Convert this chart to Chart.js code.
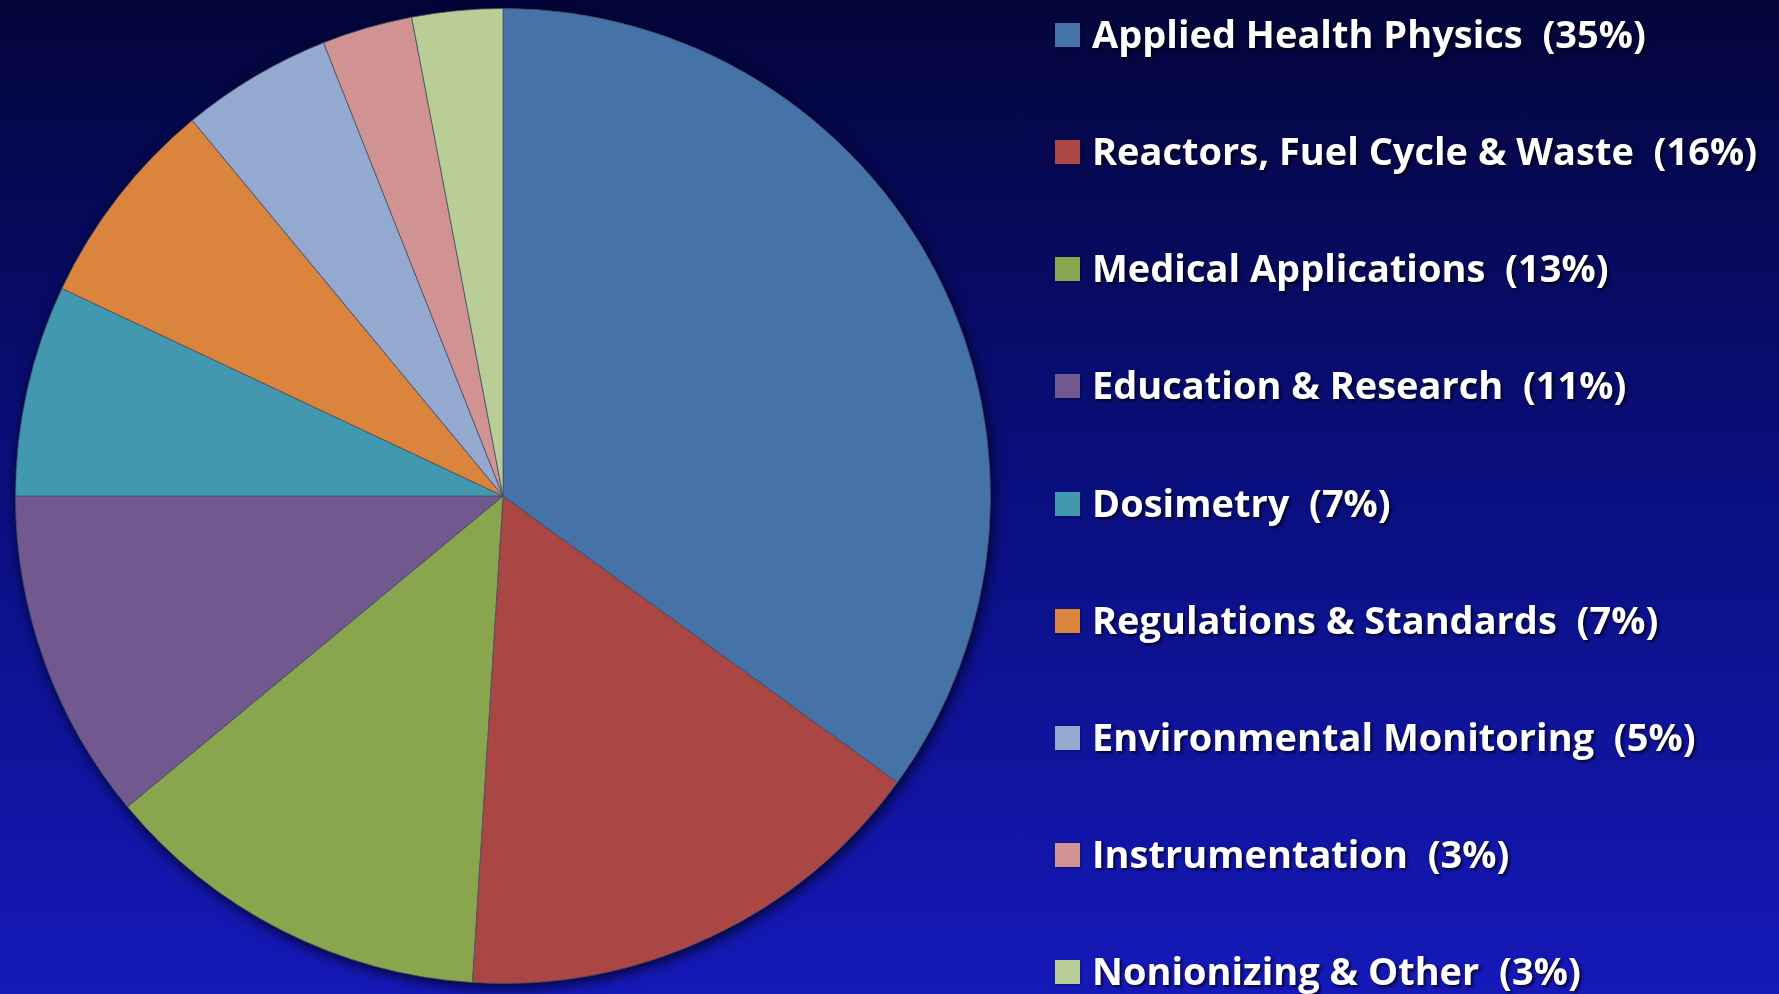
<!DOCTYPE html>
<html>
<head>
<meta charset="utf-8">
<script src="https://cdn.jsdelivr.net/npm/chart.js@4"></script>
<style>
  html, body { margin: 0; padding: 0; overflow: hidden; }
  body {
    width: 1779px; height: 994px;
    background: linear-gradient(to bottom, #03053a 0%, #0a0f80 50%, #1519b8 100%);
    position: relative;
  }
  #wrap { position: absolute; left: 0; top: 0; width: 1779px; height: 994px; }
  #legend { position: absolute; left: 0; top: 0; width: 1779px; height: 994px; pointer-events: none; }
  .item { position: absolute; left: 1055px; height: 40px; display: flex; align-items: center; }
  .box { width: 25px; height: 24px; margin-right: 12px; box-shadow: 1px 1px 2px rgba(0,0,0,0.35); }
  .txt {
    font-family: "Open Sans", Lato, sans-serif; font-weight: bold; font-size: 38px;
    color: #fff; white-space: pre; line-height: 40px;
    text-shadow: 2px 2px 3px rgba(0, 0, 0, 0.75);
    position: relative; top: -2px;
  }
</style>
</head>
<body>
<div id="wrap"><canvas id="myChart"></canvas></div>
<div id="legend"></div>
<script>
const categories = ['Applied Health Physics', 'Reactors, Fuel Cycle & Waste', 'Medical Applications',
  'Education & Research', 'Dosimetry', 'Regulations & Standards', 'Environmental Monitoring',
  'Instrumentation', 'Nonionizing & Other'];
const shares = [35, 16, 13, 11, 7, 7, 5, 3, 3];
const sliceColors = ['#4572a7', '#aa4643', '#89a54e', '#71588f', '#4198af',
  '#db843d', '#93a9cf', '#d19392', '#b9cd96'];

// dark halo under the whole pie, drawn once before the slices
const pieShadow = {
  id: 'pieShadow',
  beforeDatasetsDraw(chart) {
    const arc = chart.getDatasetMeta(0).data[0];
    if (!arc) return;
    const c = chart.ctx;
    c.save();
    c.shadowColor = 'rgba(0, 0, 15, 0.85)';
    c.shadowBlur = 14;
    c.shadowOffsetX = 2;
    c.shadowOffsetY = 4;
    c.fillStyle = '#10164a';
    c.beginPath();
    c.arc(arc.x, arc.y, arc.outerRadius, 0, Math.PI * 2);
    c.fill();
    c.restore();
  }
};

const ctx = document.getElementById('myChart');

new Chart(ctx, {
  type: 'pie',
  data: {
    labels: categories,
    datasets: [{
      data: shares,
      backgroundColor: sliceColors,
      borderColor: 'rgba(70, 80, 105, 0.8)',
      borderWidth: 1
    }]
  },
  options: {
    responsive: true,
    maintainAspectRatio: false,
    animation: false,
    layout: { padding: { left: 14, right: 787, top: 8, bottom: 10 } },
    plugins: {
      legend: { display: false },
      tooltip: { enabled: false }
    }
  },
  plugins: [pieShadow]
});

// legend rows on the right
const legend = document.getElementById('legend');
categories.forEach((name, i) => {
  const row = document.createElement('div');
  row.className = 'item';
  row.style.top = (34.7 + 117.2 * i - 20) + 'px';
  const box = document.createElement('span');
  box.className = 'box';
  box.style.background = sliceColors[i];
  const txt = document.createElement('span');
  txt.className = 'txt';
  txt.textContent = name + '  (' + shares[i] + '%)';
  row.appendChild(box);
  row.appendChild(txt);
  legend.appendChild(row);
});
</script>
</body>
</html>
